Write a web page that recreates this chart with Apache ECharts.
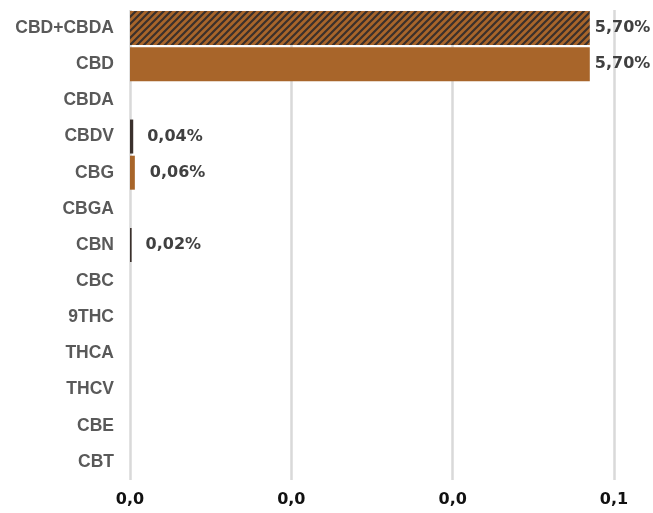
<!DOCTYPE html>
<html><head><meta charset="utf-8">
<script src="https://cdn.jsdelivr.net/npm/echarts@6/dist/echarts.min.js"></script>
<style>html,body{margin:0;padding:0;background:#fff}#c{width:653px;height:513px}</style>
</head><body><div id="c"></div>
<script>
const categories = ['CBD+CBDA','CBD','CBDA','CBDV','CBG','CBGA','CBN','CBC','9THC','THCA','THCV','CBE','CBT'];
const values = [0.057, 0.057, null, 0.0004, 0.0006, null, 0.0002, null, null, null, null, null, null];
const xTicks = [0, 0.02, 0.04, 0.06];

const ORANGE = '#A8652A', DARK = '#3a302c';
function hatch(){
  const s = 7, c = document.createElement('canvas');
  c.width = s; c.height = s;
  const g = c.getContext('2d');
  g.fillStyle = ORANGE; g.fillRect(0,0,s,s);
  g.strokeStyle = DARK; g.lineWidth = 2.2;
  g.beginPath();
  g.moveTo(-1, s+1); g.lineTo(s+1, -1);
  g.moveTo(-1 - s, s+1); g.lineTo(1, -1);
  g.moveTo(s-1, s+1); g.lineTo(s+s+1, -1);
  g.stroke();
  return c;
}
const colors = [{image: hatch(), repeat: 'repeat'}, ORANGE, ORANGE, DARK, ORANGE, ORANGE, DARK, ORANGE, ORANGE, ORANGE, ORANGE, ORANGE, ORANGE];
const labelDist = [5,5,5,14,15,5,14,5,5,5,5,5,5];

const chart = echarts.init(document.getElementById('c'));
chart.setOption({
  animation: false,
  grid: {left: 130, right: 39, top: 10, bottom: 33, containLabel: false},
  xAxis: {
    type: 'value', min: 0, max: 0.06, interval: 0.02,
    axisLine: {show: false}, axisTick: {show: false},
    splitLine: {show: true, lineStyle: {color: '#d9d9d9', width: 2.5}},
    axisLabel: {margin: 12, color: '#111', fontWeight: 'bold', fontSize: 16, fontFamily: '"DejaVu Sans", sans-serif',
      formatter: v => v.toFixed(1).replace('.', ',')}
  },
  yAxis: {
    type: 'category', data: categories, inverse: true,
    axisLine: {show: false}, axisTick: {show: false},
    axisLabel: {margin: 16, color: '#595959', fontWeight: 'bold', fontSize: 17.5, fontFamily: '"Liberation Sans", Arial, sans-serif'}
  },
  series: [{
    type: 'bar', barCategoryGap: '6%',
    data: values.map((v, i) => ({
      value: v,
      itemStyle: {color: colors[i]},
      label: {distance: labelDist[i]}
    })),
    label: {
      show: true, position: 'right', color: '#404040', fontWeight: 'bold', fontSize: 16,
      fontFamily: '"DejaVu Sans", sans-serif',
      formatter: p => p.value == null ? '' : (p.value * 100).toFixed(2).replace('.', ',') + '%'
    }
  }]
});
</script></body></html>
